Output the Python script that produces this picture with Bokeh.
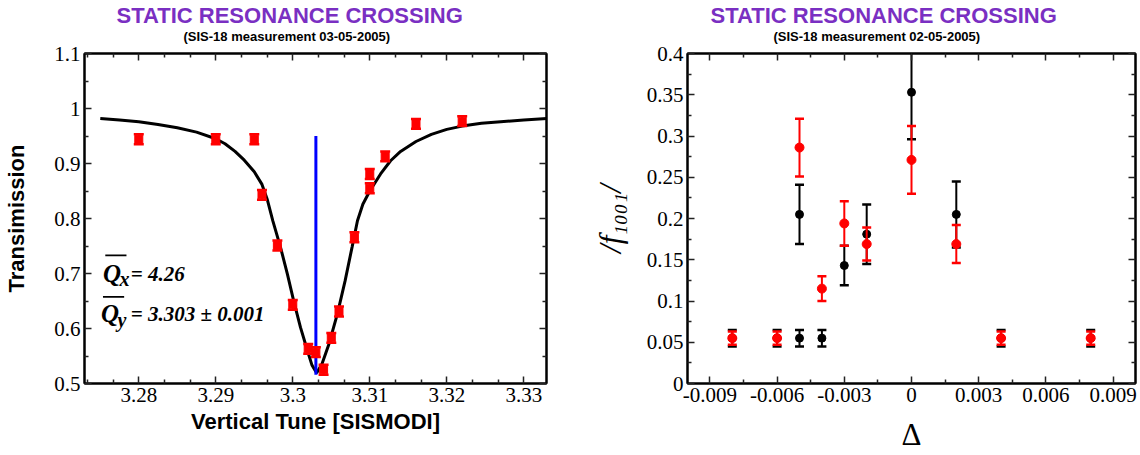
from bokeh.plotting import figure
from bokeh.layouts import row
from bokeh.models import (FixedTicker, LinearAxis, CustomJSTickFormatter, Label,
                          BoxAnnotation, Range1d, Title)
from bokeh.embed import file_html
from bokeh.resources import INLINE

# ---------------- data: left panel (transmission vs. vertical tune) ----------------
tune_x = [3.280, 3.290, 3.295, 3.296, 3.298, 3.300, 3.302, 3.303, 3.304,
          3.305, 3.306, 3.308, 3.310, 3.310, 3.312, 3.316, 3.322]
trans_y = [0.944, 0.944, 0.944, 0.843, 0.751, 0.643, 0.563, 0.557, 0.525,
           0.583, 0.631, 0.766, 0.855, 0.881, 0.913, 0.972, 0.977]
trans_err = [0.009, 0.009, 0.009, 0.009, 0.009, 0.009, 0.009, 0.009, 0.009,
             0.009, 0.009, 0.009, 0.009, 0.009, 0.009, 0.009, 0.009]

fit_x = [3.2750, 3.2775, 3.2800, 3.2825, 3.2850, 3.2875, 3.2900, 3.2912, 3.2925,
         3.2937, 3.2950, 3.2960, 3.2967, 3.2974, 3.2984, 3.2993, 3.3001, 3.3010,
         3.3019, 3.3025, 3.3031, 3.3038, 3.3047, 3.3058, 3.3068, 3.3077, 3.3084,
         3.3091, 3.3100, 3.3114, 3.3127, 3.3140, 3.3160, 3.3180, 3.3200, 3.3220,
         3.3245, 3.3270, 3.3300, 3.3330]
fit_y = [0.982, 0.979, 0.976, 0.971, 0.965, 0.957, 0.945, 0.936, 0.922,
         0.906, 0.885, 0.862, 0.834, 0.796, 0.748, 0.699, 0.651, 0.602,
         0.560, 0.533, 0.519, 0.536, 0.572, 0.627, 0.687, 0.748, 0.796,
         0.826, 0.850, 0.881, 0.905, 0.922, 0.940, 0.953, 0.962, 0.968,
         0.973, 0.976, 0.979, 0.982]

res_tune_x = [3.303, 3.303]
res_tune_y = [0.516, 0.950]

left_xticks = [3.28, 3.29, 3.30, 3.31, 3.32, 3.33]
left_yticks = [0.5, 0.6, 0.7, 0.8, 0.9, 1.0, 1.1]

# ---------------- data: right panel (|f1001| vs. Delta) ----------------
delta_black = [-0.008, -0.006, -0.005, -0.004, -0.005, -0.003, -0.002, 0.000, 0.002, 0.004, 0.008]
f_black = [0.055, 0.055, 0.055, 0.055, 0.205, 0.143, 0.181, 0.353, 0.205, 0.055, 0.055]
err_black = [0.010, 0.010, 0.010, 0.010, 0.036, 0.024, 0.036, 0.057, 0.040, 0.010, 0.010]

delta_red = [-0.008, -0.006, -0.005, -0.004, -0.003, -0.002, 0.000, 0.002, 0.004, 0.008]
f_red = [0.055, 0.055, 0.286, 0.115, 0.194, 0.169, 0.271, 0.169, 0.055, 0.055]
err_red = [0.008, 0.008, 0.035, 0.015, 0.027, 0.020, 0.041, 0.023, 0.008, 0.008]

right_xticks = [-0.009, -0.006, -0.003, 0.0, 0.003, 0.006, 0.009]
right_yticks = [0.0, 0.05, 0.1, 0.15, 0.2, 0.25, 0.3, 0.35, 0.4]

title_main = "STATIC RESONANCE CROSSING"
sub_left = "(SIS-18 measurement 03-05-2005)"
sub_right = "(SIS-18 measurement 02-05-2005)"

PURPLE = "#7a2fc2"
SERIF = "Liberation Serif"
SANS = "Liberation Sans"


def num_fmt():
    return CustomJSTickFormatter(code="return String(parseFloat(tick.toFixed(4)));")


def delta_fmt():
    return CustomJSTickFormatter(code="""
const v = parseFloat(tick.toFixed(4));
return v == 0 ? "0" : v.toFixed(3);
""")


def build(p, xticks, xminor, yticks, yminor, xfmt, yfmt, sub, off_main, off_sub):
    p.xgrid.visible = False
    p.ygrid.visible = False
    p.outline_line_color = "black"
    p.outline_line_width = 2
    p.background_fill_color = "white"
    p.border_fill_color = "white"
    bottom = LinearAxis(ticker=FixedTicker(ticks=xticks, minor_ticks=xminor), formatter=xfmt)
    left = LinearAxis(ticker=FixedTicker(ticks=yticks, minor_ticks=yminor), formatter=yfmt)
    top = LinearAxis(ticker=FixedTicker(ticks=xticks, minor_ticks=xminor),
                     formatter=CustomJSTickFormatter(code="return '';"))
    right = LinearAxis(ticker=FixedTicker(ticks=yticks, minor_ticks=yminor),
                       formatter=CustomJSTickFormatter(code="return '';"))
    p.add_layout(bottom, "below")
    p.add_layout(left, "left")
    p.add_layout(top, "above")
    p.add_layout(right, "right")
    for ax in (bottom, left, top, right):
        ax.axis_line_width = 2
        ax.axis_line_color = "black"
        ax.major_tick_in = 7
        ax.major_tick_out = 0
        ax.minor_tick_in = 4
        ax.minor_tick_out = 0
        ax.major_tick_line_width = 1.5
        ax.minor_tick_line_width = 1.5
        ax.major_tick_line_color = "#222222"
        ax.minor_tick_line_color = "#222222"
    for ax in (bottom, left):
        ax.major_label_text_font = SERIF
        ax.major_label_text_font_style = "normal"
        ax.major_label_text_font_size = "21px"
        ax.major_label_text_color = "black"
        ax.major_label_standoff = 4
    for ax in (top, right):
        ax.major_label_text_font_size = "1px"
        ax.major_label_standoff = 0
    p.add_layout(Title(text=sub, text_font=SANS, text_font_style="bold",
                       text_font_size="13px", text_color="black", align="left",
                       offset=off_sub, standoff=20), "above")
    p.add_layout(Title(text=title_main, text_font=SANS, text_font_style="bold",
                       text_font_size="22px", text_color=PURPLE, align="left",
                       offset=off_main, standoff=-22), "above")
    return bottom, left


# ================= left figure =================
p1 = figure(width=570, height=455, output_backend="svg", toolbar_location=None,
            x_range=Range1d(3.27295, 3.33295), y_range=Range1d(0.5, 1.1),
            x_axis_location=None, y_axis_location=None,
            min_border_left=84, min_border_right=24, min_border_top=53, min_border_bottom=72)

lx_minor = [t + k * 0.01 / 3 for t in [3.27] + left_xticks for k in (1, 2)]
ly_minor = [t + 0.05 for t in left_yticks[:-1]]
b1, l1 = build(p1, left_xticks, lx_minor, left_yticks, ly_minor, num_fmt(), num_fmt(),
               sub_left, 32, 99)

b1.axis_label = "Vertical Tune [SISMODI]"
l1.axis_label = "Transimission"
for ax in (b1, l1):
    ax.axis_label_text_font = SANS
    ax.axis_label_text_font_style = "bold"
    ax.axis_label_text_font_size = "22px"
    ax.axis_label_text_color = "black"
b1.axis_label_standoff = 4
l1.axis_label_standoff = 22

p1.line(fit_x, fit_y, line_color="black", line_width=3)
p1.line(res_tune_x, res_tune_y, line_color="#0000ff", line_width=3)

t_lo = [y - e for y, e in zip(trans_y, trans_err)]
t_hi = [y + e for y, e in zip(trans_y, trans_err)]
p1.segment(x0=tune_x, y0=t_lo, x1=tune_x, y1=t_hi, line_color="#ff0000", line_width=2)
p1.scatter(tune_x, t_lo, marker="dash", size=10, line_color="#ff0000", line_width=2.5)
p1.scatter(tune_x, t_hi, marker="dash", size=10, line_color="#ff0000", line_width=2.5)
p1.scatter(tune_x, trans_y, marker="square", size=8, fill_color="#ff0000", line_color="#ff0000")


# annotation text  Q̄x = 4.26 , Q̄y = 3.303 ± 0.001
def ann(p, x, y, text, size, style="bold italic"):
    p.add_layout(Label(x=x, y=y, text=text, text_font=SERIF, text_font_style=style,
                       text_font_size=size, text_color="black",
                       text_align="left", text_baseline="alphabetic"))


ann(p1, 3.27535, 0.7000, "Q", "25px")
ann(p1, 3.27750, 0.6909, "x", "20px")
ann(p1, 3.27895, 0.7000, "= 4.26", "21px")
ann(p1, 3.27510, 0.6270, "Q", "25px")
ann(p1, 3.27725, 0.6161, "y", "20px")
ann(p1, 3.27895, 0.6270, "= 3.303 \u00b1 0.001", "21px")
p1.add_layout(BoxAnnotation(left=3.27565, right=3.27840, bottom=0.7315, top=0.7345,
                            fill_color="black", fill_alpha=1, line_alpha=0))
p1.add_layout(BoxAnnotation(left=3.27535, right=3.27810, bottom=0.6560, top=0.6590,
                            fill_color="black", fill_alpha=1, line_alpha=0))

# ================= right figure =================
p2 = figure(width=570, height=455, output_backend="svg", toolbar_location=None,
            x_range=Range1d(-0.01, 0.01), y_range=Range1d(0.0, 0.4),
            x_axis_location=None, y_axis_location=None,
            min_border_left=117, min_border_right=5, min_border_top=53, min_border_bottom=72)

rx_minor = [-0.0075, -0.0045, -0.0015, 0.0015, 0.0045, 0.0075]
ry_minor = [t + 0.025 for t in right_yticks[:-1]]
b2, l2 = build(p2, right_xticks, rx_minor, right_yticks, ry_minor, delta_fmt(), num_fmt(),
               sub_right, 23, 86)

b2.axis_label = "\u0394"
l2.axis_label = "/f\u2081\u2080\u2080\u2081/"
for ax in (b2, l2):
    ax.axis_label_text_font = SERIF
    ax.axis_label_text_color = "black"
    ax.axis_label_text_font_size = "31px"
b2.axis_label_text_font_style = "normal"
l2.axis_label_text_font_style = "italic"
b2.axis_label_standoff = 12
l2.axis_label_standoff = 16


def errpoints(p, xs, ys, es, color, size):
    lo = [y - e for y, e in zip(ys, es)]
    hi = [y + e for y, e in zip(ys, es)]
    p.segment(x0=xs, y0=lo, x1=xs, y1=hi, line_color=color, line_width=2)
    p.scatter(xs, lo, marker="dash", size=9, line_color=color, line_width=2.5)
    p.scatter(xs, hi, marker="dash", size=9, line_color=color, line_width=2.5)
    p.scatter(xs, ys, marker="circle", size=size, fill_color=color, line_color=color)


errpoints(p2, delta_black, f_black, err_black, "black", 8)
errpoints(p2, delta_red, f_red, err_red, "#ff0000", 9)

layout = row(p1, p2)
open("out.html", "w").write(file_html(layout, INLINE))
